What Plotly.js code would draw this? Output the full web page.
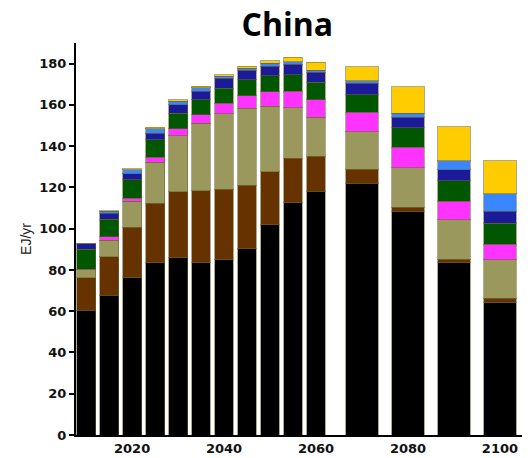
<!DOCTYPE html>
<html>
<head>
<meta charset="utf-8">
<script src="https://cdn.plot.ly/plotly-3.0.1.min.js"></script>
<style>html,body{margin:0;padding:0;background:#fff;}#chart{width:532px;height:458px;}</style>
</head>
<body>
<div id="chart"></div>
<script>
// Years of each bar
const years = [2010, 2015, 2020, 2025, 2030, 2035, 2040, 2045, 2050, 2055, 2060, 2070, 2080, 2090, 2100];
// Series values (EJ/yr), stacked bottom to top
const black   = [60.5, 67.7, 76.3, 83.5, 85.8, 83.5, 85.0, 90.3, 101.9, 112.6, 118.2, 122.1, 108.2, 83.5, 64.0];
const brown   = [15.8, 18.6, 24.3, 28.9, 32.2, 35.0, 34.0, 30.7, 25.8, 21.6, 16.8, 6.7, 2.2, 1.6, 2.3];
const olive   = [3.9, 8.2, 12.6, 19.8, 27.1, 32.6, 36.6, 37.4, 31.6, 24.3, 19.0, 18.3, 19.1, 19.3, 18.7];
const magenta = [0.2, 1.5, 1.6, 2.5, 3.3, 4.2, 5.2, 6.1, 7.1, 8.1, 8.4, 9.3, 10.0, 9.0, 7.4];
const green   = [9.7, 8.5, 8.9, 8.5, 7.6, 7.1, 7.2, 7.6, 7.8, 8.0, 8.5, 8.5, 9.4, 9.8, 10.3];
const navy    = [2.5, 3.0, 2.9, 3.1, 4.0, 4.2, 4.8, 4.8, 4.5, 5.2, 4.9, 5.5, 5.1, 5.3, 5.8];
const ltblue  = [0.2, 1.0, 1.9, 2.1, 1.7, 1.6, 1.2, 0.9, 1.4, 1.1, 1.1, 1.3, 2.0, 4.5, 8.4];
const yellow  = [0.0, 0.2, 0.5, 0.8, 0.7, 0.8, 0.6, 0.9, 1.3, 2.1, 3.7, 6.8, 12.8, 16.5, 16.1];
const xTicks = [2020, 2040, 2060, 2080, 2100];
const yTicks = [0, 20, 40, 60, 80, 100, 120, 140, 160, 180];

const seriesList = [
  {y: black, color: '#000000'},
  {y: brown, color: '#663300'},
  {y: olive, color: '#9a985c'},
  {y: magenta, color: '#ff33ff'},
  {y: green, color: '#005700'},
  {y: navy, color: '#1b1b99'},
  {y: ltblue, color: '#3a86ff'},
  {y: yellow, color: '#ffcc00'}
];
const widths = years.map(y => (y <= 2060 ? 4.1 : 7.0));

const traces = seriesList.map(s => ({
  type: 'bar',
  x: years,
  y: s.y,
  width: widths,
  marker: {color: s.color, line: {color: 'rgba(110,100,50,0.55)', width: 1}},
  hoverinfo: 'x+y'
}));

const layout = {
  width: 532,
  height: 458,
  barmode: 'stack',
  showlegend: false,
  paper_bgcolor: '#ffffff',
  plot_bgcolor: '#ffffff',
  margin: {l: 76, r: 10, t: 43, b: 23},
  title: {
    text: '<b>China</b>',
    font: {family: 'Open Sans', size: 32, color: '#000000'},
    x: 0.54, xanchor: 'center',
    y: 0.97, yanchor: 'top', yref: 'container'
  },
  xaxis: {
    range: [2007.8, 2104.8],
    tickvals: xTicks,
    ticktext: xTicks.map(String),
    ticks: '',
    showline: true, linecolor: '#000000', linewidth: 2,
    showgrid: false, zeroline: false,
    tickfont: {family: 'DejaVu Sans', size: 13, color: '#111111', weight: 'bold'}
  },
  yaxis: {
    range: [0, 190],
    tickvals: yTicks,
    ticks: 'outside', ticklen: 5, tickwidth: 2, tickcolor: '#000000',
    showline: true, linecolor: '#000000', linewidth: 2,
    showgrid: false, zeroline: false,
    tickfont: {family: 'DejaVu Sans', size: 13, color: '#111111', weight: 'bold'},
    title: {text: 'EJ/yr', font: {family: 'Liberation Sans', size: 14, color: '#1a1a1a'}, standoff: 4}
  }
};

Plotly.newPlot('chart', traces, layout, {displayModeBar: false, staticPlot: true});
</script>
</body>
</html>
